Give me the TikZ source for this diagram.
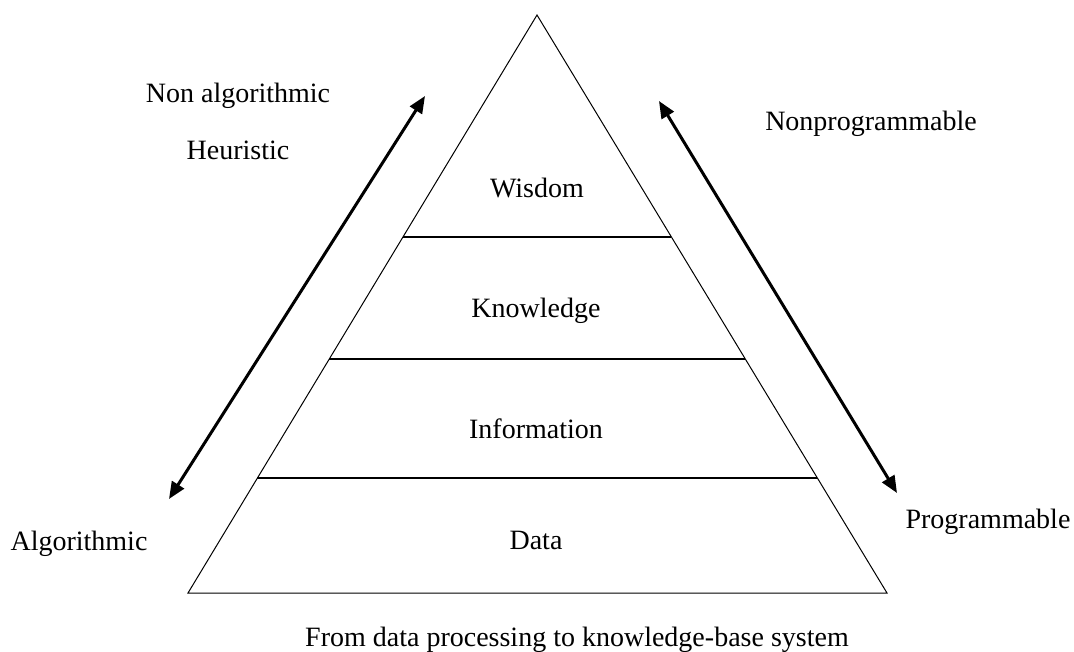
\documentclass[tikz,border=0pt]{standalone}
\usepackage{fontspec}
\setmainfont{Liberation Serif}
\usetikzlibrary{arrows.meta,calc}
\tikzset{
  lbl/.style={anchor=base, inner sep=0pt, font=\fontsize{28}{34}\selectfont},
  edge/.style={line width=1pt, line join=miter},
  level/.style={line width=1.5pt},
  dblarrow/.style={line width=3pt, {Triangle[length=17pt,width=14pt]}-{Triangle[length=17pt,width=14pt]}, shorten <=0pt, shorten >=0pt}
}
\begin{document}
\begin{tikzpicture}[x=1pt, y=-1pt]
\useasboundingbox (0,0) rectangle (1074,651);
% triangle
\coordinate (apex) at (537,15);
\coordinate (bl) at (188,593);
\coordinate (br) at (887,593);
\draw[edge] (apex) -- (br) -- (bl) -- cycle;
% level lines
\coordinate (l1a) at ($(apex)!0.384!(bl)$);
\coordinate (l1b) at ($(apex)!0.384!(br)$);
\coordinate (l2a) at ($(apex)!0.595!(bl)$);
\coordinate (l2b) at ($(apex)!0.595!(br)$);
\coordinate (l3a) at ($(apex)!0.801!(bl)$);
\coordinate (l3b) at ($(apex)!0.801!(br)$);
\draw[level] (l1a) -- (l1b);
\draw[level] (l2a) -- (l2b);
\draw[level] (l3a) -- (l3b);
% level labels
\node[lbl] (wis) at (537,197) {Wisdom};
\node[lbl] (kno) at (536,317) {Knowledge};
\node[lbl] (inf) at (536,438) {Information};
\node[lbl] (dat) at (536,549) {Data};
% side labels
\node[lbl] (nonalg) at (238,102) {Non algorithmic};
\node[lbl] (heur) at (238,159) {Heuristic};
\node[lbl] (alg) at (79,550) {Algorithmic};
\node[lbl] (nonprog) at (871,130) {Nonprogrammable};
\node[lbl] (prog) at (988,528) {Programmable};
\node[lbl, anchor=base west] (cap) at (305,646) {From data processing to knowledge-base system};
% arrows
\coordinate (la) at (169,499);
\coordinate (lb) at (425,96);
\coordinate (ra) at (659,101);
\coordinate (rb) at (897,493);
\draw[dblarrow] (la) -- (lb);
\draw[dblarrow] (ra) -- (rb);
\end{tikzpicture}
\end{document}
